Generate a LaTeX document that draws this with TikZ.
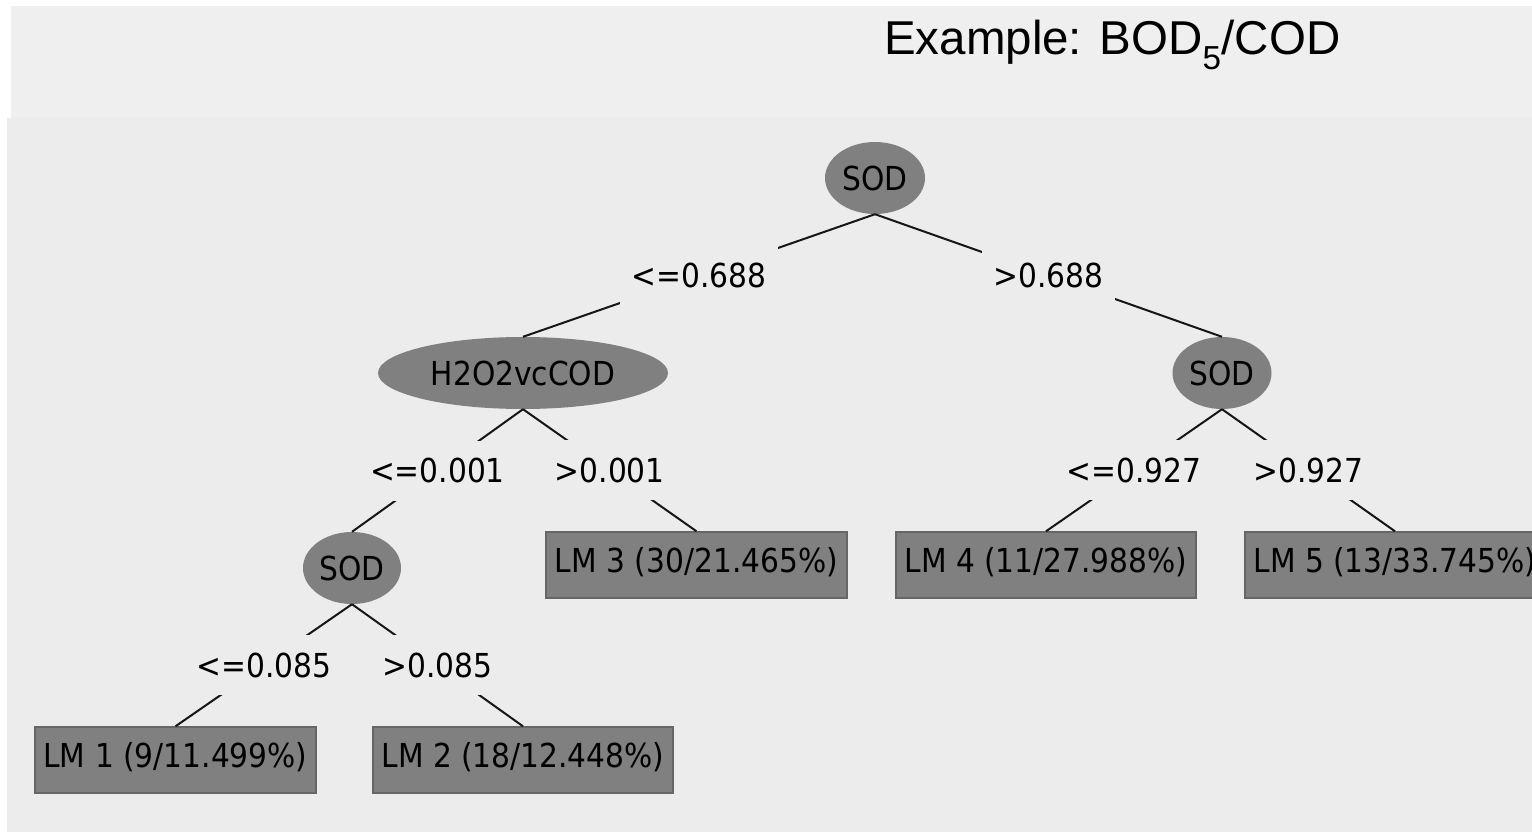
\documentclass[tikz,border=0pt]{standalone}
\usepackage{fontspec}
\setmainfont{Liberation Sans}
\newfontfamily\treefont[FakeStretch=0.9]{DejaVu Sans}
\usetikzlibrary{shapes.geometric}
\definecolor{panelTop}{HTML}{EFEFEF}
\definecolor{panelLow}{HTML}{ECECEC}
\definecolor{nodeFill}{HTML}{808080}
\definecolor{boxEdge}{HTML}{666666}
\definecolor{edgeInk}{HTML}{161616}
\newcommand{\treetext}{\treefont\fontsize{33}{40}\selectfont}

\begin{document}
\begin{tikzpicture}[x=1pt,y=-1pt,
  split/.style={ellipse, fill=nodeFill, inner sep=0pt, minimum height=72pt, font=\treetext},
  leaf/.style={rectangle, fill=nodeFill, draw=boxEdge, line width=1.4pt, inner sep=0pt,
    minimum height=66pt, text height=24pt, text depth=10pt, font=\treetext},
  cond/.style={rectangle, fill=panelLow, inner xsep=12pt, inner ysep=0pt, minimum height=60pt, font=\treetext},
  branch/.style={draw=edgeInk, line width=2pt}
]
% page and the two panels
\clip (0,0) rectangle (1532,832);
\fill[white] (0,0) rectangle (1532,832);
\fill[panelTop] (11,6) rectangle (1532,118);
\fill[panelLow] (7,118) rectangle (1532,832);

% heading
\node[anchor=base west, inner sep=0pt, font=\fontsize{47.5}{56}\selectfont] (title) at (884,55)
  {Example: BOD\textsubscript{5}/COD};

% split nodes
\node[split, minimum width=100pt] (root) at (875,178) {SOD};
\node[split, minimum width=290pt] (h2o)  at (523,373) {H2O2vcCOD};
\node[split, minimum width=99pt]  (sodR) at (1222,373) {SOD};
\node[split, minimum width=98pt]  (sodL) at (352,568) {SOD};

% leaf models
\node[leaf, minimum width=281pt] (lm1) at (175.5,760) {LM 1 (9/11.499\%)};
\node[leaf, minimum width=300pt] (lm2) at (523,760) {LM 2 (18/12.448\%)};
\node[leaf, minimum width=301pt] (lm3) at (696.5,565) {LM 3 (30/21.465\%)};
\node[leaf, minimum width=300pt] (lm4) at (1046,565) {LM 4 (11/27.988\%)};
\node[leaf, minimum width=300pt] (lm5) at (1395,565) {LM 5 (13/33.745\%)};

% branches with their conditions
\draw[branch] (root.south) -- node[cond] (c1) {<=0.688} (h2o.north);
\draw[branch] (root.south) -- node[cond] (c2) {>0.688} (sodR.north);
\draw[branch] (h2o.south) -- node[cond] (c3) {<=0.001} (sodL.north);
\draw[branch] (h2o.south) -- node[cond] (c4) {>0.001} (lm3.north);
\draw[branch] (sodR.south) -- node[cond] (c5) {<=0.927} (lm4.north);
\draw[branch] (sodR.south) -- node[cond] (c6) {>0.927} (lm5.north);
\draw[branch] (sodL.south) -- node[cond] (c7) {<=0.085} (lm1.north);
\draw[branch] (sodL.south) -- node[cond] (c8) {>0.085} (lm2.north);
\end{tikzpicture}
\end{document}
